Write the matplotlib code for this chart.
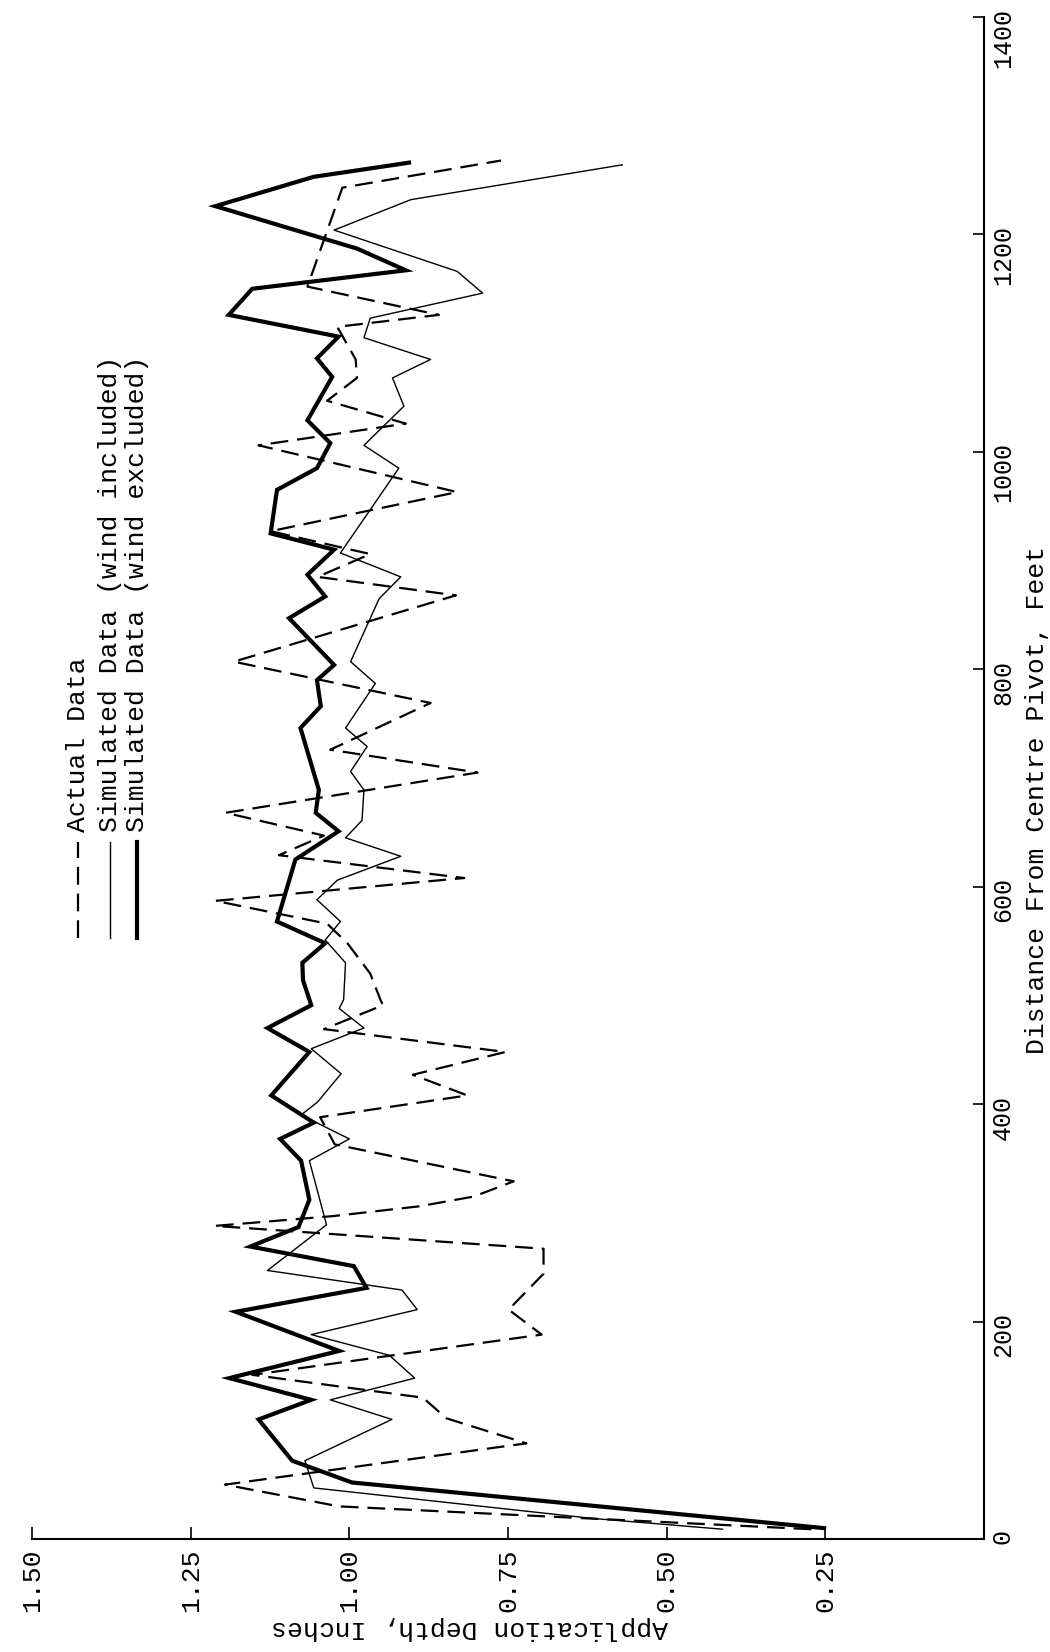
import matplotlib
matplotlib.use('Agg')
import matplotlib.pyplot as plt
from matplotlib.lines import Line2D

plt.rcParams['font.family'] = ['Liberation Mono', 'DejaVu Sans Mono']

# Actual data (dashed)
dist_actual = [9, 30, 50, 88, 111, 130, 151, 188, 211, 244, 267, 288, 297, 306, 315, 329,
               363, 388, 408, 427, 448, 469, 491, 496, 520, 548, 566, 587, 608, 629, 647,
               668, 705, 726, 769, 807, 868, 885, 906, 927, 963, 1006, 1026, 1047, 1068,
               1085, 1115, 1126, 1152, 1243, 1268]
depth_actual = [0.272, 1.016, 1.196, 0.721, 0.847, 0.884, 1.153, 0.697, 0.749, 0.694, 0.694,
                1.212, 1.026, 0.890, 0.804, 0.741, 1.023, 1.046, 0.814, 0.900, 0.754, 1.040,
                0.947, 0.951, 0.967, 1.003, 1.035, 1.211, 0.819, 1.111, 1.040, 1.195, 0.798,
                1.030, 0.872, 1.182, 0.832, 1.050, 0.967, 1.124, 0.830, 1.143, 0.911, 1.035,
                0.988, 0.990, 1.019, 0.859, 1.066, 1.011, 0.761]

# Simulated data, wind included (thin)
dist_wind_in = [9, 19, 47, 72, 110, 128, 148, 169, 188, 211, 229, 247, 289, 348, 368, 390,
                402, 428, 451, 470, 488, 496, 530, 551, 568, 588, 606, 628, 645, 661, 689,
                706, 729, 746, 787, 807, 865, 885, 907, 985, 1006, 1042, 1068, 1085, 1105,
                1123, 1146, 1166, 1204, 1232, 1264]
depth_wind_in = [0.412, 0.618, 1.056, 1.070, 0.933, 1.030, 0.897, 0.937, 1.060, 0.893, 0.917,
                 1.129, 1.036, 1.063, 1.000, 1.076, 1.050, 1.013, 1.060, 0.977, 1.016, 1.009,
                 1.006, 1.038, 1.014, 1.051, 1.019, 0.919, 1.006, 0.980, 0.977, 0.998, 0.972,
                 1.006, 0.959, 0.998, 0.953, 0.919, 1.014, 0.922, 0.977, 0.914, 0.932, 0.872,
                 0.977, 0.967, 0.790, 0.830, 1.024, 0.903, 0.570]

# Simulated data, wind excluded (thick)
dist_wind_ex = [10, 52, 72, 110, 128, 148, 173, 209, 231, 251, 269, 287, 312, 348, 368, 383,
                408, 448, 470, 491, 514, 530, 548, 568, 625, 651, 668, 689, 746, 766, 790,
                804, 847, 867, 887, 910, 925, 965, 985, 1008, 1029, 1069, 1086, 1106, 1126,
                1150, 1167, 1187, 1226, 1253, 1266]
depth_wind_ex = [0.252, 0.996, 1.090, 1.143, 1.060, 1.189, 1.016, 1.179, 0.973, 0.993, 1.156,
                 1.080, 1.063, 1.076, 1.109, 1.056, 1.123, 1.063, 1.129, 1.060, 1.073, 1.074,
                 1.038, 1.114, 1.085, 1.017, 1.053, 1.048, 1.077, 1.045, 1.051, 1.024, 1.095,
                 1.038, 1.066, 1.024, 1.124, 1.114, 1.051, 1.030, 1.066, 1.027, 1.051, 1.017,
                 1.190, 1.153, 0.911, 0.988, 1.211, 1.056, 0.906]

depth_ticks = [1.50, 1.25, 1.00, 0.75, 0.50, 0.25]
dist_ticks = [0, 200, 400, 600, 800, 1000, 1200, 1400]
legend_labels = ['Actual Data', 'Simulated Data (wind included)', 'Simulated Data (wind excluded)']

W, H = 1050, 1652
fig = plt.figure(figsize=(W / 100, H / 100), dpi=100)
ax = fig.add_axes([32 / W, (H - 1539) / H, 952 / W, 1522 / H])

dash = (0, (8, 4))
ax.plot(depth_actual, dist_actual, color='black', lw=1.6, linestyle=dash)
ax.plot(depth_wind_in, dist_wind_in, color='black', lw=1.0)
ax.plot(depth_wind_ex, dist_wind_ex, color='black', lw=3.0, solid_joinstyle='miter')

ax.set_xlim(1.5, 0.0)
ax.set_ylim(0, 1400)
for s in ['left', 'top']:
    ax.spines[s].set_visible(False)
for s in ['bottom', 'right']:
    ax.spines[s].set_linewidth(1.5)

ax.yaxis.tick_right()
ax.set_yticks(dist_ticks)
ax.set_yticklabels([str(t) for t in dist_ticks])
ax.tick_params(axis='y', direction='in', length=8, width=1.2, labelrotation=90, pad=5,
               labelsize=18)

ax.set_xticks(depth_ticks)
ax.set_xticklabels(['%.2f' % t for t in depth_ticks])
ax.tick_params(axis='x', direction='in', length=9, width=1.2, labelrotation=90, pad=7,
               labelsize=19)

fig.text(1037 / W, 1 - 800 / H, 'Distance From Centre Pivot, Feet', rotation=90,
         ha='center', va='center', fontsize=19)
fig.text(470 / W, 1 - 1628 / H, 'Application Depth, Inches', rotation=180,
         ha='center', va='center', fontsize=19)

# legend, drawn rotated like the rest of the page
styles = [dict(lw=1.6, linestyle=dash), dict(lw=1.0), dict(lw=3.0)]
leg_x = [78, 110, 137]
for x, lab, st in zip(leg_x, legend_labels, styles):
    fig.add_artist(Line2D([x / W, x / W], [1 - 938 / H, 1 - 842 / H], color='black', **st))
    fig.text(x / W, 1 - 832 / H, lab, rotation=90, rotation_mode='anchor',
             ha='left', va='center', fontsize=19)

fig.savefig('out.png', dpi=100)
